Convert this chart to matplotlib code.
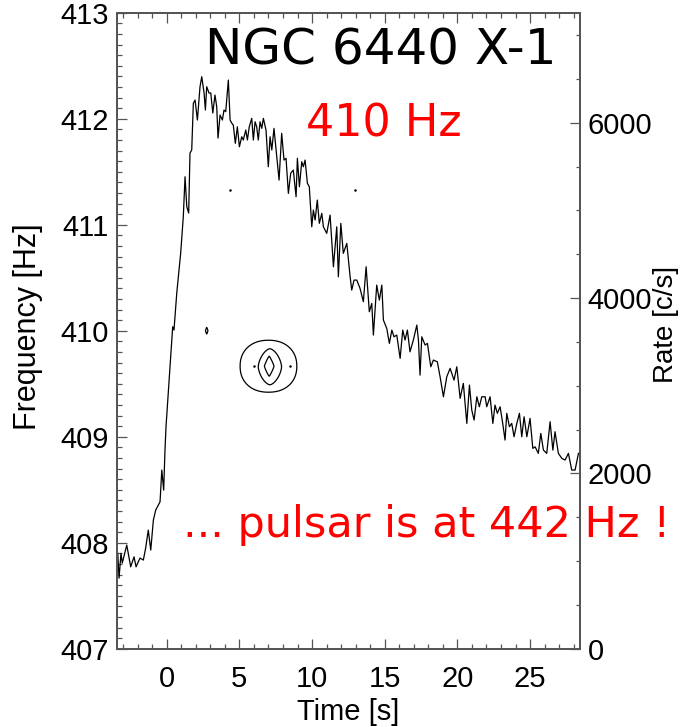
import numpy as np
import matplotlib
matplotlib.use("Agg")
import matplotlib.pyplot as plt
from matplotlib.ticker import MultipleLocator

# light curve: time [s], rate [c/s]
time_s = [-3.37, -3.28, -3.15, -3.06, -2.75, -2.48, -2.25, -2.11, -1.84, -1.61,
          -1.45, -1.27, -1.10, -0.92, -0.76, -0.46, -0.34, -0.21, -0.12, -0.05,
          0.41, 0.50, 0.69, 0.96, 1.14, 1.26, 1.38, 1.51, 1.60, 1.72,
          1.83, 1.95, 2.11, 2.29, 2.41, 2.57, 2.66, 2.75, 2.91, 3.03,
          3.17, 3.32, 3.44, 3.53, 3.67, 3.83, 3.94, 4.06, 4.24, 4.36,
          4.47, 4.58, 4.72, 4.86, 5.00, 5.16, 5.27, 5.44, 5.55, 5.68,
          5.85, 5.96, 6.08, 6.19, 6.30, 6.42, 6.54, 6.65, 6.83, 6.99,
          7.11, 7.23, 7.38, 7.57, 7.73, 7.91, 8.07, 8.21, 8.37, 8.53,
          8.71, 8.90, 8.99, 9.13, 9.29, 9.40, 9.52, 9.68, 9.81, 9.98,
          10.09, 10.21, 10.36, 10.50, 10.67, 10.78, 11.01, 11.24, 11.47, 11.70,
          11.81, 11.98, 12.15, 12.39, 12.62, 12.73, 12.89, 13.08, 13.30, 13.53,
          13.72, 13.94, 14.11, 14.22, 14.45, 14.63, 14.80, 14.91, 15.14, 15.32,
          15.49, 15.64, 15.83, 16.06, 16.24, 16.40, 16.56, 16.74, 16.97, 17.21,
          17.32, 17.43, 17.55, 17.78, 17.94, 18.17, 18.35, 18.62, 18.81, 19.04,
          19.27, 19.50, 19.77, 19.96, 20.19, 20.41, 20.65, 20.83, 20.99, 21.15,
          21.34, 21.51, 21.68, 21.91, 22.02, 22.25, 22.44, 22.59, 22.75, 22.94,
          23.12, 23.28, 23.40, 23.58, 23.74, 23.90, 24.09, 24.27, 24.43, 24.59,
          24.78, 25.00, 25.19, 25.35, 25.57, 25.74, 25.92, 26.15, 26.38, 26.57,
          26.72, 26.95, 27.19, 27.41, 27.64, 27.87, 28.10, 28.33]
rate_cs = [1087, 805, 1087, 977, 1182, 934, 1048, 934, 1034, 1011,
           1148, 1353, 1125, 1467, 1581, 1676, 2038, 1809, 2266, 2532,
           3673, 3635, 4057, 4513, 4928, 5384, 5042, 4970, 5654, 5689,
           6221, 6259, 6031, 6411, 6525, 6339, 6145, 6411, 6339, 6339,
           6111, 6316, 6183, 5825, 6088, 6031, 6145, 6126, 6487, 6031,
           5997, 5974, 5765, 5954, 5726, 5840, 5803, 5917, 5803, 5954,
           6050, 5803, 6011, 5954, 5803, 6011, 5936, 6050, 5917, 5498,
           5840, 5689, 5936, 5612, 5346, 5879, 5574, 5594, 5194, 5423,
           5460, 5156, 5594, 5270, 5555, 5498, 5574, 5309, 5270, 4813,
           5004, 4890, 5118, 4852, 4966, 4813, 4738, 4947, 4357, 4813,
           4243, 4852, 4510, 4624, 4243, 4091, 4205, 4205, 4111, 3958,
           4357, 3844, 3939, 3578, 4148, 3977, 4148, 3749, 3654, 3483,
           3635, 3558, 3578, 3312, 3635, 3521, 3635, 3387, 3521, 3692,
           3521, 3121, 3558, 3464, 3483, 3216, 3293, 3273, 3102, 2874,
           3102, 3198, 3064, 3216, 2856, 3027, 2570, 3007, 2722, 2608,
           2874, 2760, 2874, 2874, 2760, 2874, 2570, 2779, 2685, 2760,
           2570, 2380, 2685, 2532, 2570, 2418, 2570, 2685, 2418, 2646,
           2418, 2627, 2285, 2303, 2228, 2456, 2266, 2228, 2589, 2266,
           2475, 2228, 2171, 2152, 2228, 2038, 2038, 2228]

# power contours (time, frequency): centre, half sizes, shape exponent
ring_t = [7.00, 7.10, 7.05, 2.75]
ring_f = [409.665, 409.66, 409.665, 410.00]
ring_half_t = [1.95, 0.80, 0.33, 0.09]
ring_half_f = [0.245, 0.17, 0.095, 0.033]
ring_power = [2.2, 1.6, 1.15, 1.0]

# isolated single-pixel detections
spot_t = [4.37, 12.96, 6.03, 8.50]
spot_f = [411.33, 411.33, 409.67, 409.67]

plt.rcParams['font.family'] = ['Liberation Sans', 'DejaVu Sans']
axis_col = '#555555'

fig = plt.figure(figsize=(6.84, 7.27), dpi=100)
ax = fig.add_axes([0.1711, 0.1077, 0.6769, 0.8748])
ax2 = ax.twinx()

ax.set_xlim(-3.42, 28.44)
ax.set_ylim(407, 413)
ax2.set_ylim(0, 7255)

# contours on the frequency axis
tt = np.linspace(-3.4, 28.4, 1600)
ff = np.linspace(407, 413, 1200)
T, F = np.meshgrid(tt, ff)
for t0, f0, a, b, p in zip(ring_t, ring_f, ring_half_t, ring_half_f, ring_power):
    r = np.abs((T - t0) / a) ** p + np.abs((F - f0) / b) ** p
    ax.contour(T, F, r, levels=[1.0], colors='k', linewidths=0.9)
ax.plot(spot_t, spot_f, 'o', color='k', ms=1.8, mew=0)

# light curve on the rate axis
ax2.plot(time_s, rate_cs, color='k', lw=0.9)

ax.xaxis.set_major_locator(MultipleLocator(5))
ax.xaxis.set_minor_locator(MultipleLocator(1))
ax.yaxis.set_major_locator(MultipleLocator(1))
ax.yaxis.set_minor_locator(MultipleLocator(0.1))
ax2.yaxis.set_major_locator(MultipleLocator(2000))
ax2.yaxis.set_minor_locator(MultipleLocator(500))

ax.tick_params(which='both', direction='in', top=True, right=False,
               color=axis_col, width=0.9, labelsize=21)
ax.tick_params(which='major', length=7.5)
ax.tick_params(which='minor', length=3.8)
ax.tick_params(axis='x', pad=12)
ax.tick_params(axis='y', pad=6)
ax2.tick_params(which='both', direction='in', left=False, right=True,
                color=axis_col, width=0.9, labelsize=21, pad=5.5)
ax2.tick_params(which='major', length=7.0)
ax2.tick_params(which='minor', length=3.0)

for a_ in (ax, ax2):
    for s in a_.spines.values():
        s.set_color(axis_col)
        s.set_linewidth(1.3)

ax.set_xlabel('Time [s]', fontsize=21, labelpad=3)
ax.set_ylabel('Frequency [Hz]', fontsize=22)
ax.yaxis.set_label_coords(-0.1595, 0.506)
ax2.set_ylabel('Rate [c/s]', fontsize=20)
ax2.yaxis.set_label_coords(1.157, 0.51)

ax.text(0.570, 0.918, 'NGC 6440 X-1', transform=ax.transAxes, ha='center',
        va='baseline', fontsize=36, family='DejaVu Sans', color='k')
ax.text(0.577, 0.8046, '410 Hz', transform=ax.transAxes, ha='center',
        va='baseline', fontsize=32, family='DejaVu Sans', color='red')
ax.text(0.1425, 0.1756, '... pulsar is at 442 Hz !', transform=ax.transAxes,
        ha='left', va='baseline', fontsize=31, family='DejaVu Sans',
        color='red', clip_on=False, zorder=5)

fig.savefig('out.png', dpi=100)
